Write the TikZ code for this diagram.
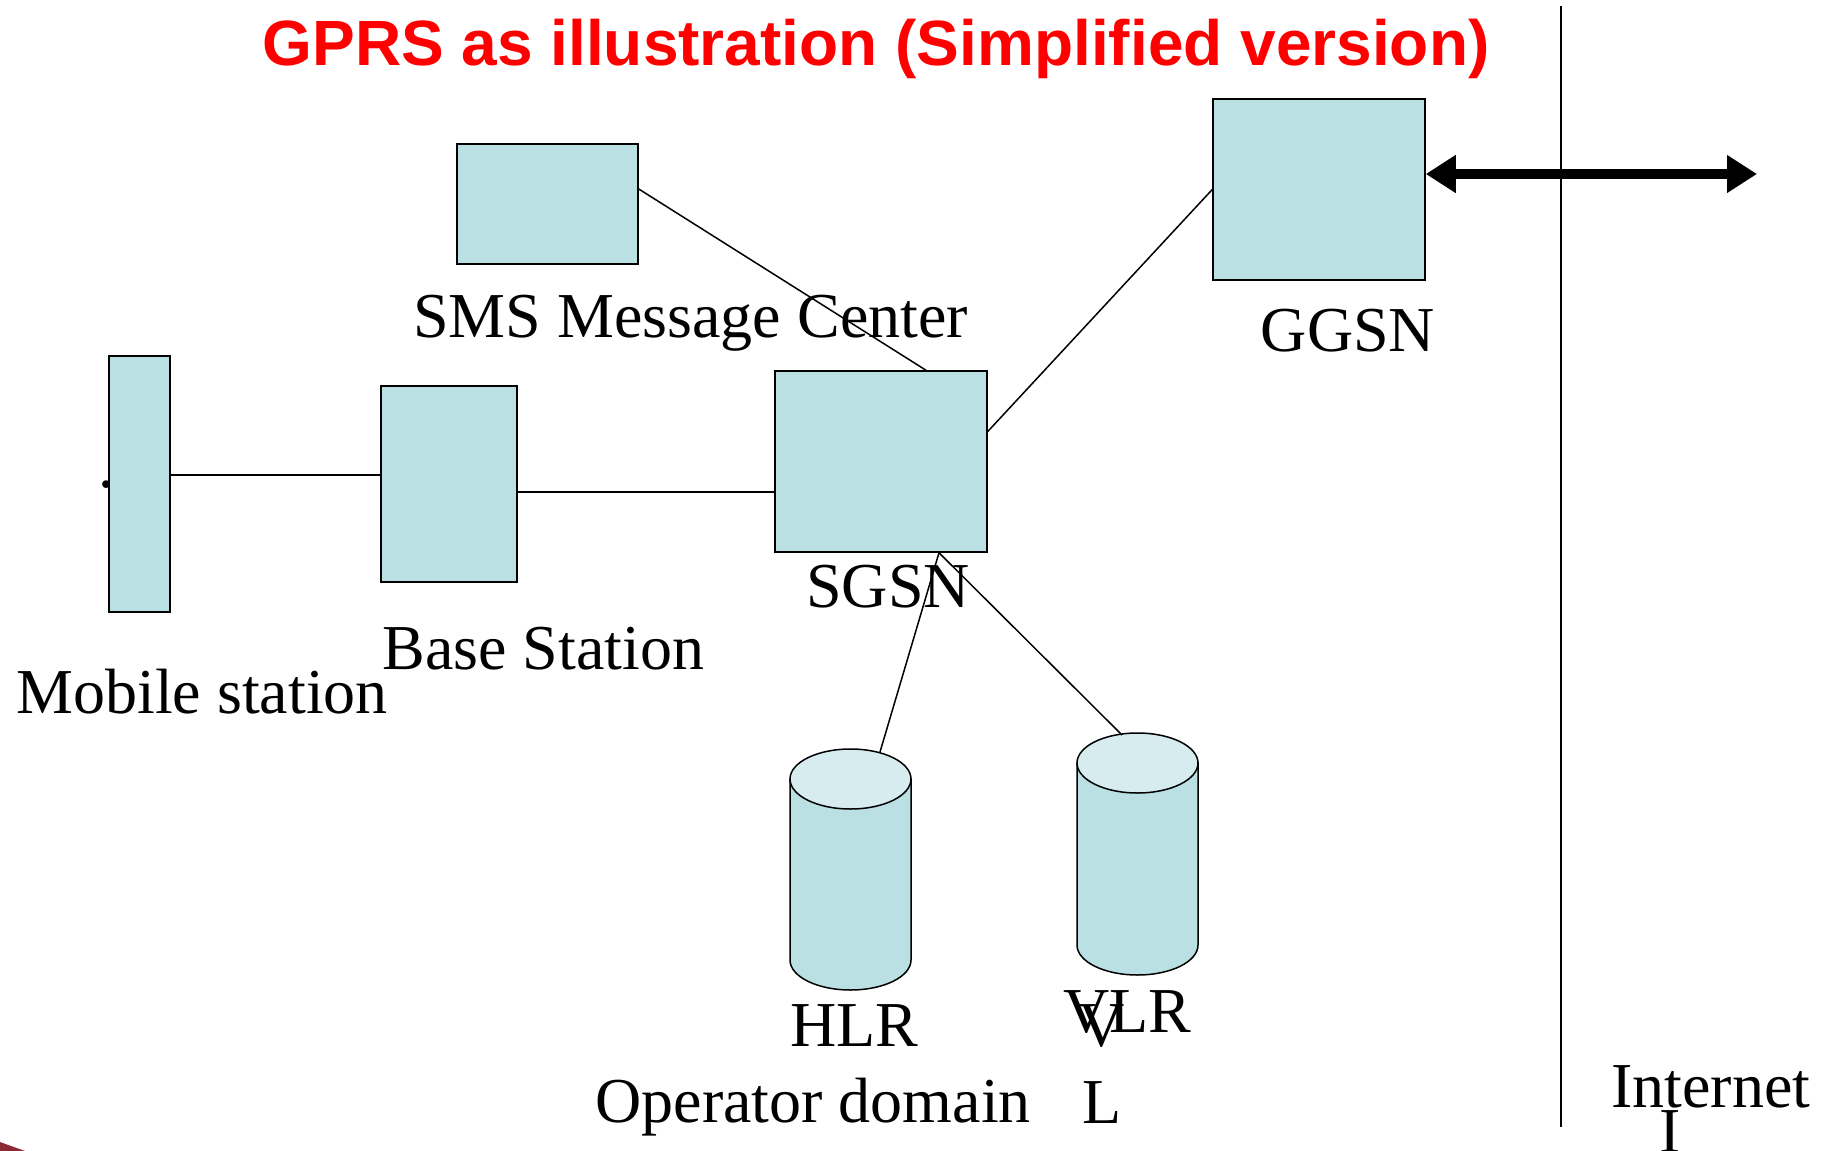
\documentclass[tikz,border=0pt]{standalone}
\usepackage{fontspec}
\setmainfont{Liberation Serif}
\newfontfamily\titrefont{Liberation Sans}
\usetikzlibrary{arrows.meta}
\definecolor{bleubox}{RGB}{187,224,227}
\definecolor{bleuhaut}{RGB}{214,236,239}
\definecolor{rougetitre}{RGB}{255,0,0}
\definecolor{bordeaux}{RGB}{140,42,52}
\begin{document}
\begin{tikzpicture}[x=0.5pt,y=-0.5pt,
    boite/.style={draw,line width=0.75pt,fill=bleubox,inner sep=0pt},
    cuve/.style={draw,line width=0.75pt,fill=bleubox},
    couvercle/.style={draw,line width=0.75pt,fill=bleuhaut},
    etiq/.style={inner sep=0pt,anchor=base west,font=\fontsize{32}{38}\selectfont},
    lien/.style={line width=0.75pt}]
    \useasboundingbox (0,0) rectangle (1822,1151);
    \fill[bordeaux] (0,1142) -- (25,1151) -- (0,1151) -- cycle;

    % Titre
    \node[inner sep=0pt,anchor=base,text=rougetitre,font=\titrefont\bfseries\fontsize{32}{38}\selectfont] (titre) at (876,65) {GPRS as illustration (Simplified version)};

    % Dessine les boites
    \node[boite,minimum width=30.5pt,minimum height=128pt] (ms) at (139.5,484) {};
    \node[boite,minimum width=68pt,minimum height=98pt] (bs) at (449,484) {};
    \node[boite,minimum width=90.5pt,minimum height=60pt] (sms) at (547.5,204) {};
    \node[boite,minimum width=106pt,minimum height=90.5pt] (sgsn) at (881,461.5) {};
    \node[boite,minimum width=106pt,minimum height=90.5pt] (ggsn) at (1319,189.5) {};

    % Dessine les bases HLR et VLR
    \draw[cuve] (790,779) -- (790,960) arc[start angle=180,end angle=360,x radius=30.25pt,y radius=15pt] -- (911,779) -- cycle;
    \draw[couvercle] (850.5,779) ellipse (30.25pt and 15pt);
    \draw[cuve] (1077,763) -- (1077,945) arc[start angle=180,end angle=360,x radius=30.25pt,y radius=15pt] -- (1198,763) -- cycle;
    \draw[couvercle] (1137.5,763) ellipse (30.25pt and 15pt);
    \coordinate (hlrhaut) at (880,752);
    \coordinate (vlrhaut) at (1122,735);

    % Dessine les liens
    \draw[lien] ([yshift=4.5pt]ms.east) -- ([yshift=4.5pt]ms.east -| bs.west);
    \draw[lien] ([yshift=-4pt]bs.east) -- ([yshift=-4pt]bs.east -| sgsn.west);
    \draw[lien] ([yshift=7.5pt]sms.east) -- ([xshift=22.5pt]sgsn.north);
    \draw[lien] ([yshift=15pt]sgsn.east) -- (ggsn.west);
    \draw[lien] ([xshift=29pt]sgsn.south) -- (hlrhaut);
    \draw[lien] ([xshift=29pt]sgsn.south) -- (vlrhaut);

    % Frontiere et fleche vers Internet
    \coordinate (limhaut) at (1561,6);
    \coordinate (limbas) at (1561,1127);
    \coordinate (netfin) at (1757,174);
    \draw[line width=1pt] (limhaut) -- (limbas);
    \draw[line width=5pt,{Triangle[length=15pt,width=18pt]}-{Triangle[length=15pt,width=18pt]}] (ggsn.east |- netfin) -- (netfin);

    % Etiquettes
    \node[etiq] (smslab) at (413,337) {SMS Message Center};
    \node[etiq,anchor=base] (ggsnlab) at (1348,351) {GGSN};
    \node[etiq] (sgsnlab) at (806,607) {SGSN};
    \node[etiq] (bslab) at (382,669) {Base Station};
    \node[etiq] (mslab) at (16,713) {Mobile station};
    \node[etiq] (point) at (98,487) {.};
    \node[etiq] (hlrlab) at (790,1046) {HLR};
    \node[etiq] (oplab) at (595,1122) {Operator domain};
    \node[etiq] (vlrlab) at (1063,1032) {VLR};
    \node[etiq] (vlab) at (1078,1046) {V};
    \node[etiq] (llab) at (1082,1123) {L};
    \node[etiq] (netlab) at (1611,1107) {Internet};
    \node[etiq] (ilab) at (1659,1152) {I};
\end{tikzpicture}
\end{document}
